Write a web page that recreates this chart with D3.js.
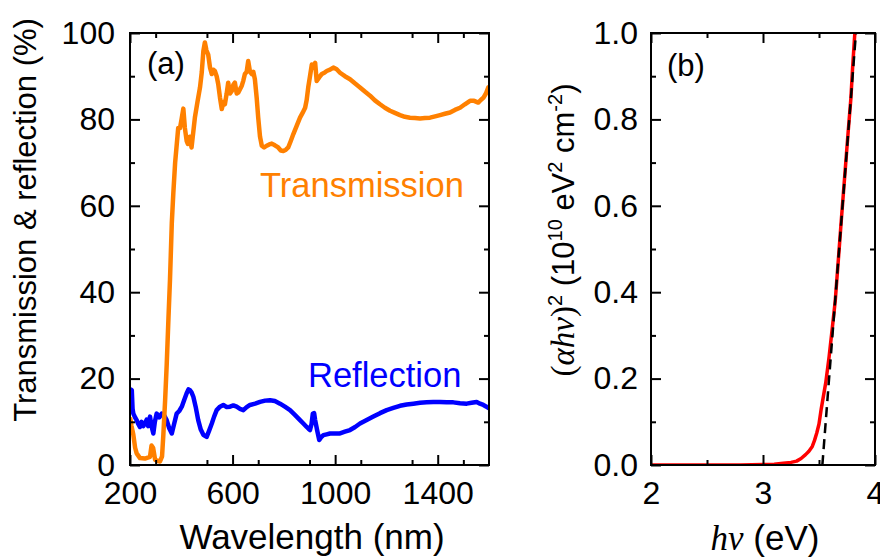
<!DOCTYPE html>
<html>
<head>
<meta charset="utf-8">
<script src="https://cdn.jsdelivr.net/npm/d3@7"></script>
<style>
  body { margin: 0; background: #fff; }
  text { font-family: "Liberation Sans", Arial, sans-serif; fill: #000; }
  .serif { font-family: "Liberation Serif", "Times New Roman", serif; font-style: italic; }
</style>
</head>
<body>
<div id="chart"></div>
<script>
// panel (a) data: wavelength (nm) vs percentage
var transWl = [200, 206, 213, 220, 226, 239, 258, 278, 284, 290, 298, 317, 325, 330, 337, 343, 350, 356, 363, 369,
  376, 388, 395, 401, 408, 414, 421, 426, 433, 440, 453, 463, 473, 480, 486, 492, 498, 505, 512, 519,
  525, 531, 538, 544, 551, 558, 564, 570, 577, 583, 590, 597, 603, 609, 616, 622, 629, 636, 642, 648,
  655, 661, 668, 675, 681, 687, 694, 700, 707, 714, 723, 733, 743, 753, 765, 778, 788, 798, 808, 817,
  827, 837, 850, 863, 873, 883, 889, 895, 902, 909, 915, 922, 928, 935, 941, 948, 958, 967, 980, 993,
  1006, 1019, 1038, 1058, 1078, 1097, 1117, 1136, 1155, 1175, 1194, 1214, 1233, 1253, 1272, 1292, 1311, 1331, 1350, 1370,
  1390, 1409, 1428, 1448, 1467, 1487, 1506, 1526, 1542, 1558, 1568, 1578, 1588, 1597, 1600];
var transVal = [11, 9, 7, 4, 2.7, 1.6, 1.5, 1.9, 4.5, 4, 1.2, 0.8, 2, 7, 15, 23, 34, 43, 56, 63,
  70, 78, 78, 80, 82.5, 78, 75, 74.3, 76, 73.5, 80.4, 84, 87.4, 91, 95.8, 97.8, 96, 95, 92, 90.5,
  91.5, 91.2, 90, 88.2, 85, 82.4, 84, 83.5, 86, 88.5, 86, 86.6, 88, 88.5, 86, 86.2, 87, 87.8, 89, 90.5,
  91, 93.5, 91, 90.5, 91, 89.3, 85, 80.4, 76, 73.9, 73.5, 73.9, 74.2, 74.4, 74, 73.5, 72.8, 72.7, 73, 73.5,
  75, 76.6, 78.5, 80.4, 81.5, 82.7, 84.5, 87.4, 90, 92.7, 92, 93.1, 88.9, 89.5, 90, 90.5, 90.8, 91.2, 91.5, 92,
  91.6, 90.8, 90, 89.3, 88.3, 87.4, 86.4, 85.5, 84.4, 83.5, 82.7, 82, 81.5, 81, 80.6, 80.4, 80.3, 80.2, 80.3, 80.4,
  80.7, 81, 81.3, 81.6, 82.2, 82.7, 83.5, 84.3, 84.3, 83.9, 84.5, 85, 86, 87.4, 87.6];

var reflWl = [200, 203, 207, 210, 213, 220, 226, 232, 239, 245, 252, 258, 265, 271, 278, 284, 291, 297, 304, 314,
  324, 333, 343, 353, 363, 372, 382, 392, 402, 411, 421, 428, 434, 440, 447, 456, 466, 476, 486, 499,
  509, 519, 528, 538, 551, 564, 577, 590, 603, 616, 629, 642, 655, 668, 688, 707, 727, 746, 765, 785,
  804, 824, 843, 863, 876, 889, 896, 902, 908, 913, 918, 922, 930, 938, 946, 954, 967, 980, 1000, 1019,
  1038, 1058, 1078, 1097, 1123, 1149, 1175, 1201, 1227, 1253, 1279, 1305, 1331, 1357, 1383, 1409, 1435, 1461, 1487, 1513,
  1532, 1552, 1565, 1578, 1590, 1600];
var reflVal = [15, 17.5, 17.3, 13, 11.9, 11, 10.4, 9.5, 8.8, 10, 9, 9.6, 10.5, 9, 11.2, 9, 7.3, 10, 11.9, 11,
  11.9, 11.5, 10.4, 8.5, 7.3, 9.5, 11.9, 12.5, 13.5, 15, 16.6, 17.5, 17.3, 16.8, 15.8, 13.5, 10.4, 8.2, 7, 6.5,
  8, 9.6, 11.2, 12.7, 13.5, 13.9, 13.4, 13.5, 13.8, 13.5, 13, 12.7, 13.4, 13.9, 14.2, 14.6, 14.9, 15, 14.8, 14.2,
  13.5, 12.7, 11.6, 10.4, 9.6, 8.8, 8.4, 8.1, 9.5, 11.9, 12, 10.4, 8, 5.8, 6.5, 6.9, 7.1, 7.3, 7.3, 7.3,
  7.7, 8.1, 8.8, 9.6, 10.4, 11.2, 12, 12.7, 13.2, 13.7, 14, 14.2, 14.4, 14.5, 14.6, 14.6, 14.5, 14.5, 14.3, 14.2,
  14.4, 14.6, 14.2, 13.9, 13.5, 13.1];

// panel (b) data: photon energy (eV) vs (alpha h nu)^2
var bandE = [2.0, 2.5, 2.8, 3.0, 3.1, 3.18, 3.25, 3.30, 3.34, 3.38, 3.41, 3.44, 3.46, 3.48, 3.50, 3.52, 3.54, 3.56, 3.59, 3.62,
  3.645, 3.68, 3.70, 3.73, 3.76, 3.785, 3.80, 3.82];
var bandVal = [0, 0, 0, 0.001, 0.002, 0.004, 0.006, 0.009, 0.015, 0.024, 0.032, 0.043, 0.057, 0.074, 0.095, 0.13, 0.16, 0.19, 0.25, 0.32,
  0.38, 0.50, 0.57, 0.67, 0.77, 0.85, 0.92, 1.0];
var fitE = [3.53, 3.83];
var fitVal = [0, 1.0];

var xTicksA = [200, 600, 1000, 1400];
var yTicksA = [0, 20, 40, 60, 80, 100];
var xTicksB = [2, 3, 4];
var yTicksB = [0, 0.2, 0.4, 0.6, 0.8, 1.0];

var width = 880, height = 559;
var svg = d3.select("#chart").append("svg")
    .attr("width", width)
    .attr("height", height);

var top0 = 33, bottom0 = 465;
var boxA = {left: 130, right: 489};
var boxB = {left: 651, right: 875};

var xA = d3.scaleLinear().domain([200, 1600]).range([boxA.left, boxA.right]);
var yA = d3.scaleLinear().domain([0, 100]).range([bottom0, top0]);
var xB = d3.scaleLinear().domain([2, 4]).range([boxB.left, boxB.right]);
var yB = d3.scaleLinear().domain([0, 1]).range([bottom0, top0]);

// draws inward ticks on all four sides plus labels on left/bottom
function drawAxes(x, y, xMajor, xMinor, yMajor, yMinor, xFmt, yFmt, yPad) {
    var g = svg.append("g");
    var l = x.range()[0], r = x.range()[1];

    g.append("g").attr("transform", "translate(0," + bottom0 + ")")
        .call(d3.axisBottom(x).tickValues(xMajor).tickSize(-10).tickPadding(16).tickFormat(xFmt));
    g.append("g").attr("transform", "translate(0," + bottom0 + ")")
        .call(d3.axisBottom(x).tickValues(xMinor).tickSize(-5).tickFormat(""));
    g.append("g").attr("transform", "translate(0," + top0 + ")")
        .call(d3.axisTop(x).tickValues(xMajor).tickSize(-10).tickFormat(""));
    g.append("g").attr("transform", "translate(0," + top0 + ")")
        .call(d3.axisTop(x).tickValues(xMinor).tickSize(-5).tickFormat(""));

    g.append("g").attr("transform", "translate(" + l + ",0)")
        .call(d3.axisLeft(y).tickValues(yMajor).tickSize(-10).tickPadding(yPad).tickFormat(yFmt));
    g.append("g").attr("transform", "translate(" + l + ",0)")
        .call(d3.axisLeft(y).tickValues(yMinor).tickSize(-5).tickFormat(""));
    g.append("g").attr("transform", "translate(" + r + ",0)")
        .call(d3.axisRight(y).tickValues(yMajor).tickSize(-10).tickFormat(""));
    g.append("g").attr("transform", "translate(" + r + ",0)")
        .call(d3.axisRight(y).tickValues(yMinor).tickSize(-5).tickFormat(""));

    g.selectAll(".domain").remove();
    g.selectAll(".tick line").attr("stroke", "#000").attr("stroke-width", 2);
    g.selectAll(".tick text")
        .style("font-family", "'Liberation Sans', Arial, sans-serif")
        .style("font-size", "32px")
        .attr("fill", "#000");

    svg.append("rect")
        .attr("x", l).attr("y", top0)
        .attr("width", r - l).attr("height", bottom0 - top0)
        .attr("fill", "none").attr("stroke", "#000").attr("stroke-width", 2);
}

var defs = svg.append("defs");
defs.append("clipPath").attr("id", "clipA").append("rect")
    .attr("x", boxA.left).attr("y", top0).attr("width", boxA.right - boxA.left).attr("height", bottom0 - top0);
defs.append("clipPath").attr("id", "clipB").append("rect")
    .attr("x", boxB.left).attr("y", top0).attr("width", boxB.right - boxB.left).attr("height", bottom0 - top0);

// ---- panel (a)
var lineA = d3.line().x(function (d) { return xA(d[0]); }).y(function (d) { return yA(d[1]); });
var gA = svg.append("g").attr("clip-path", "url(#clipA)");

gA.append("path")
    .datum(d3.zip(reflWl, reflVal))
    .attr("fill", "none")
    .attr("stroke", "#0000ff")
    .attr("stroke-width", 4.5)
    .attr("stroke-linejoin", "round")
    .attr("d", lineA);

gA.append("path")
    .datum(d3.zip(transWl, transVal))
    .attr("fill", "none")
    .attr("stroke", "#ff8000")
    .attr("stroke-width", 4.5)
    .attr("stroke-linejoin", "round")
    .attr("d", lineA);

drawAxes(xA, yA, xTicksA, d3.range(300, 1600, 200), yTicksA, d3.range(10, 100, 20),
    d3.format("d"), d3.format("d"), 15);

svg.append("text").attr("x", 147).attr("y", 74).style("font-size", "31px").text("(a)");
svg.append("text").attr("x", 260).attr("y", 197).style("font-size", "34.5px")
    .style("fill", "#ff8000").text("Transmission");
svg.append("text").attr("x", 308).attr("y", 387).style("font-size", "34.5px")
    .style("fill", "#0000ff").text("Reflection");

svg.append("text")
    .attr("transform", "translate(36,220) rotate(-90)")
    .attr("text-anchor", "middle")
    .style("font-size", "31px")
    .text("Transmission & reflection (%)");

svg.append("text")
    .attr("x", 312).attr("y", 549)
    .attr("text-anchor", "middle")
    .style("font-size", "35px")
    .text("Wavelength (nm)");

// ---- panel (b)
var lineB = d3.line().x(function (d) { return xB(d[0]); }).y(function (d) { return yB(d[1]); });
var gB = svg.append("g").attr("clip-path", "url(#clipB)");

gB.append("path")
    .datum(d3.zip(bandE, bandVal))
    .attr("fill", "none")
    .attr("stroke", "#ff0000")
    .attr("stroke-width", 3.5)
    .attr("stroke-linejoin", "round")
    .attr("d", lineB);

gB.append("path")
    .datum(d3.zip(fitE, fitVal))
    .attr("fill", "none")
    .attr("stroke", "#000")
    .attr("stroke-width", 2.5)
    .attr("stroke-dasharray", "10,6")
    .attr("d", lineB);

drawAxes(xB, yB, xTicksB, [2.5, 3.5], yTicksB, d3.range(0.1, 1, 0.2),
    d3.format("d"), d3.format(".1f"), 13);

svg.append("text").attr("x", 667).attr("y", 76).style("font-size", "31px").text("(b)");

var yTitleB = svg.append("text")
    .attr("transform", "translate(574,230) rotate(-90)")
    .attr("text-anchor", "middle")
    .style("font-size", "31px");
yTitleB.append("tspan").attr("class", "serif").style("font-style", "normal").style("font-size", "33px").text("(");
yTitleB.append("tspan").attr("class", "serif").style("font-size", "33px").text("αhν");
yTitleB.append("tspan").attr("class", "serif").style("font-style", "normal").style("font-size", "33px").text(")");
yTitleB.append("tspan").attr("dy", -12).style("font-size", "20px").text("2");
yTitleB.append("tspan").attr("dy", 12).text(" (10");
yTitleB.append("tspan").attr("dy", -12).style("font-size", "20px").text("10");
yTitleB.append("tspan").attr("dy", 12).text(" eV");
yTitleB.append("tspan").attr("dy", -12).style("font-size", "20px").text("2");
yTitleB.append("tspan").attr("dy", 12).text(" cm");
yTitleB.append("tspan").attr("dy", -12).style("font-size", "20px").text("-2");
yTitleB.append("tspan").attr("dy", 12).text(")");

var xTitleB = svg.append("text")
    .attr("x", 765).attr("y", 550)
    .attr("text-anchor", "middle")
    .style("font-size", "35px");
xTitleB.append("tspan").attr("class", "serif").text("hν");
xTitleB.append("tspan").text(" (eV)");
</script>
</body>
</html>
